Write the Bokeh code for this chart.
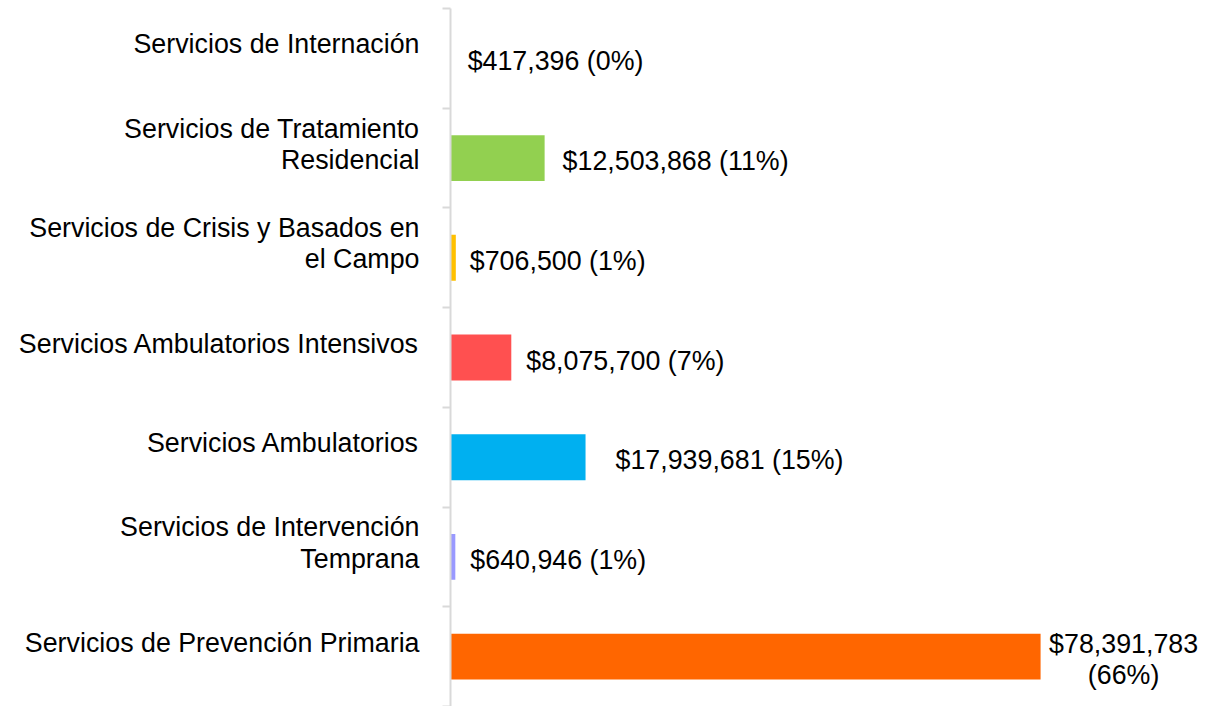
from bokeh.plotting import figure
from bokeh.models import Range1d, LinearAxis, FixedTicker, ColumnDataSource
from bokeh.embed import file_html
from bokeh.resources import INLINE
from bokeh.core.properties import value

# Data (top to bottom as displayed)
categories = [
    "Servicios de Internación",
    "Servicios de Tratamiento\nResidencial",
    "Servicios de Crisis y Basados en\nel Campo",
    "Servicios Ambulatorios Intensivos",
    "Servicios Ambulatorios",
    "Servicios de Intervención\nTemprana",
    "Servicios de Prevención Primaria",
]
amounts = [417396, 12503868, 706500, 8075700, 17939681, 640946, 78391783]
percents = [0, 11, 1, 7, 15, 1, 66]

# Styles
colors = ["#FFFFFF", "#92D050", "#FFC000", "#FF5050", "#00B0F0", "#9999FF", "#FF6600"]
label_dx = [14, 18, 14, 15, 30, 15, 83]
label_align = ["left", "left", "left", "left", "left", "left", "center"]
FONT = "Liberation Sans"
FS = "26.8px"

n = len(categories)
ypos = [n - 0.5 - i for i in range(n)]
texts = []
for a, pc in zip(amounts, percents):
    s = "${:,}".format(a)
    if a > 50_000_000:
        texts.append(s + "\n(" + str(pc) + "%)")
    else:
        texts.append(s + " (" + str(pc) + "%)")

src = ColumnDataSource(dict(y=ypos, v=amounts, c=colors, t=texts, dx=label_dx, al=label_align))

p = figure(width=1213, height=706, output_backend="svg", toolbar_location=None,
           x_range=Range1d(0, 100.3e6), y_range=Range1d(0, n),
           min_border_left=450, min_border_right=8, min_border_top=8, min_border_bottom=0)
p.outline_line_color = None
p.xaxis.visible = False
p.xgrid.visible = False
p.ygrid.visible = False
p.background_fill_color = "white"
p.border_fill_color = "white"

p.hbar(y="y", left=0, right="v", height=0.46, color="c", line_color=None, source=src)
p.text(x="v", y="y", text="t", x_offset="dx", y_offset=3, text_align="al", text_baseline="middle",
       text_font=value(FONT), text_font_size=FS, text_color="black", text_line_height=1.04,
       source=src)

# Tick axis at category boundaries
ax = p.yaxis[0]
ax.ticker = FixedTicker(ticks=list(range(n + 1)))
ax.major_label_overrides = {i: "" for i in range(n + 1)}
ax.major_label_standoff = 0
ax.major_tick_out = 8
ax.major_tick_in = 0
ax.minor_tick_line_color = None
ax.axis_line_color = "#D9D9D9"
ax.axis_line_width = 2
ax.major_tick_line_color = "#D9D9D9"
ax.major_tick_line_width = 2

# Category label axis (labels sit slightly above band centre)
p.extra_y_ranges = {"lab": Range1d(-0.14, n - 0.14)}
lab = LinearAxis(y_range_name="lab")
lab.ticker = FixedTicker(ticks=ypos)
lab.major_label_overrides = {y: c for y, c in zip(ypos, categories)}
lab.axis_line_color = None
lab.major_tick_line_color = None
lab.minor_tick_line_color = None
lab.major_label_standoff = 17
lab.major_label_text_font = FONT
lab.major_label_text_font_size = FS
lab.major_label_text_color = "black"
lab.major_label_text_line_height = 1.04
p.add_layout(lab, "left")

open("out.html", "w").write(file_html(p, INLINE))
